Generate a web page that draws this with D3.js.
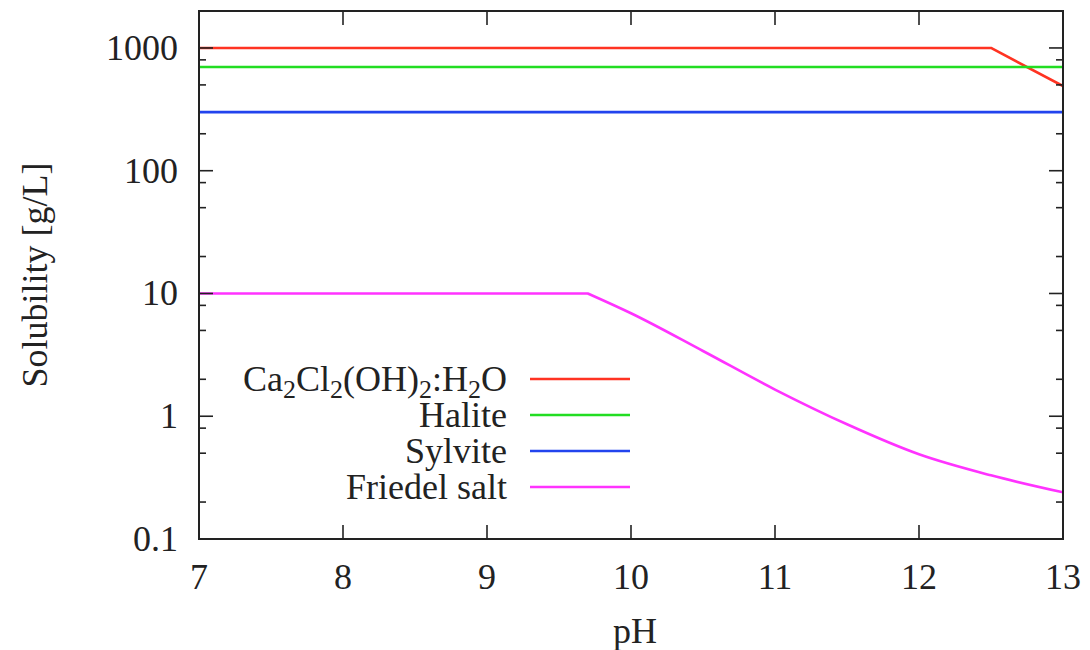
<!DOCTYPE html>
<html>
<head>
<meta charset="utf-8">
<script src="https://cdn.jsdelivr.net/npm/d3@7/dist/d3.min.js"></script>
<style>
  html, body { margin: 0; padding: 0; background: #fff; }
  svg text { font-family: "Liberation Serif", "Times New Roman", "DejaVu Serif", serif; fill: #222; }
</style>
</head>
<body>
<svg id="chart" width="1090" height="650"></svg>
<script>
// Solubility vs pH, each series as [pH, g/L] points
const caOxychloride = [[7, 1000], [12.5, 1000], [13, 490]];
const halite = [[7, 700], [13, 700]];
const sylvite = [[7, 300], [13, 300]];
const friedelSalt = [[7, 10], [9.7, 10], [10, 6.9], [10.5, 3.4], [11, 1.65], [11.5, 0.86], [12, 0.49], [12.5, 0.33], [13, 0.24]];
// pH above which the Friedel salt curve is smooth
const friedelBreak = 9.7;

const xTicks = [7, 8, 9, 10, 11, 12, 13];
const yTicks = [0.1, 1, 10, 100, 1000];
const yTickLabels = ["0.1", "1", "10", "100", "1000"];
const yMinorTicks = [0.2, 0.5, 0.8, 2, 5, 8, 20, 50, 80, 200, 500, 800];

const seriesNames = ["Ca2Cl2(OH)2:H2O", "Halite", "Sylvite", "Friedel salt"];
const seriesData = [caOxychloride, halite, sylvite, friedelSalt];
const seriesColors = ["#ff3322", "#22dd22", "#2244ee", "#ff33ff"];

const svg = d3.select("#chart");
const plot = { left: 199, right: 1063, top: 11, bottom: 539 };

const x = d3.scaleLinear().domain([7, 13]).range([plot.left, plot.right]);
const y = d3.scaleLog().domain([0.1, 2000]).range([plot.bottom, plot.top]);

const fontFamily = "Liberation Serif, Times New Roman, serif";
const fontSize = 36;
const subSize = 26;
const subShift = 7;

// curves
const straight = d3.line().x(d => x(d[0])).y(d => y(d[1]));
const smooth = d3.line().x(d => x(d[0])).y(d => y(d[1])).curve(d3.curveMonotoneX);

function pathFor(d, i) {
  if (i !== 3) return straight(d);
  // flat plateau then a smooth decline, joined with a sharp corner
  const head = d.filter(p => p[0] <= friedelBreak);
  const tail = d.filter(p => p[0] >= friedelBreak);
  return straight(head) + smooth(tail).replace(/^M[^A-Za-z]*/, "");
}

svg.append("clipPath").attr("id", "plotclip").append("rect")
  .attr("x", plot.left).attr("y", plot.top)
  .attr("width", plot.right - plot.left).attr("height", plot.bottom - plot.top);

const curves = svg.append("g").attr("clip-path", "url(#plotclip)");
seriesData.forEach((d, i) => {
  curves.append("path")
    .attr("d", pathFor(d, i))
    .attr("fill", "none")
    .attr("stroke", seriesColors[i])
    .attr("stroke-width", 2.6)
    .attr("stroke-linejoin", "round");
});

// ticks on all four sides, pointing inward
const ticks = svg.append("g").attr("stroke", "#222").attr("stroke-width", 1.6);
const majorLen = 14, minorLen = 7;
xTicks.forEach(t => {
  ticks.append("line").attr("x1", x(t)).attr("x2", x(t)).attr("y1", plot.bottom).attr("y2", plot.bottom - majorLen);
  ticks.append("line").attr("x1", x(t)).attr("x2", x(t)).attr("y1", plot.top).attr("y2", plot.top + majorLen);
});
yTicks.forEach(t => {
  ticks.append("line").attr("y1", y(t)).attr("y2", y(t)).attr("x1", plot.left).attr("x2", plot.left + majorLen);
  ticks.append("line").attr("y1", y(t)).attr("y2", y(t)).attr("x1", plot.right).attr("x2", plot.right - majorLen);
});
yMinorTicks.forEach(t => {
  ticks.append("line").attr("y1", y(t)).attr("y2", y(t)).attr("x1", plot.left).attr("x2", plot.left + minorLen);
  ticks.append("line").attr("y1", y(t)).attr("y2", y(t)).attr("x1", plot.right).attr("x2", plot.right - minorLen);
});

// frame
svg.append("rect")
  .attr("x", plot.left).attr("y", plot.top)
  .attr("width", plot.right - plot.left).attr("height", plot.bottom - plot.top)
  .attr("fill", "none").attr("stroke", "#222").attr("stroke-width", 2);

// tick labels
svg.append("g").selectAll("text").data(xTicks).join("text")
  .attr("x", d => x(d)).attr("y", 589)
  .attr("text-anchor", "middle")
  .attr("font-family", fontFamily)
  .attr("font-size", fontSize)
  .text(d => d);

svg.append("g").selectAll("text").data(yTicks).join("text")
  .attr("x", 178).attr("y", d => y(d) + 12)
  .attr("text-anchor", "end")
  .attr("font-family", fontFamily)
  .attr("font-size", fontSize)
  .text((d, i) => yTickLabels[i]);

// axis titles
svg.append("text")
  .attr("x", (plot.left + plot.right) / 2 + 4).attr("y", 643)
  .attr("text-anchor", "middle")
  .attr("font-family", fontFamily).attr("font-size", fontSize)
  .text("pH");

svg.append("text")
  .attr("transform", `translate(47,${(plot.top + plot.bottom) / 2}) rotate(-90)`)
  .attr("text-anchor", "middle")
  .attr("font-family", fontFamily).attr("font-size", fontSize)
  .text("Solubility [g/L]");

// legend: right-aligned labels with a line sample
const legend = svg.append("g");
const legendTextRight = 507, legendLineX1 = 530, legendLineX2 = 630;
const legendY0 = 379, legendStep = 36;

function addLabel(g, name) {
  // digits are drawn as subscripts, the text after them returns to the baseline
  const parts = name.match(/[^\d]+|\d+/g);
  let shift = 0;
  parts.forEach(p => {
    if (/^\d+$/.test(p)) {
      g.append("tspan").attr("font-size", subSize).attr("dy", subShift - shift).text(p);
      shift = subShift;
    } else {
      g.append("tspan").attr("font-size", fontSize).attr("dy", -shift).text(p);
      shift = 0;
    }
  });
}

seriesNames.forEach((name, i) => {
  const ly = legendY0 + i * legendStep;
  const t = legend.append("text")
    .attr("x", legendTextRight).attr("y", ly + 12)
    .attr("text-anchor", "end")
    .attr("font-family", fontFamily).attr("font-size", fontSize);
  addLabel(t, name);
  legend.append("line")
    .attr("x1", legendLineX1).attr("x2", legendLineX2)
    .attr("y1", ly).attr("y2", ly)
    .attr("stroke", seriesColors[i]).attr("stroke-width", 2.6);
});
</script>
</body>
</html>
